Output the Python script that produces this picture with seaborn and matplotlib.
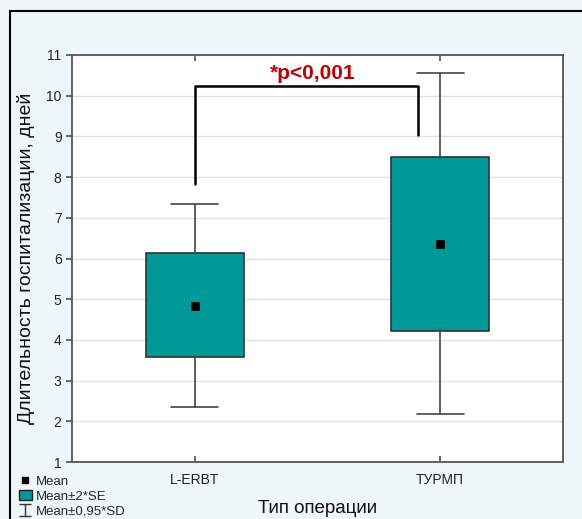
import matplotlib
matplotlib.use("Agg")
import matplotlib.pyplot as plt
import seaborn as sns
import pandas as pd
from matplotlib.lines import Line2D
from matplotlib.patches import Patch
from matplotlib.path import Path

# ---- data ----
categories = ["L-ERBT", "ТУРМП"]
means = [4.83, 6.36]
se2_low = [3.58, 4.22]
se2_high = [6.14, 8.49]
sd_low = [2.36, 2.19]
sd_high = [7.34, 10.56]
bracket_left_bottom = 7.83
bracket_top = 10.24
bracket_right_bottom = 9.03
p_text = "*p<0,001"
y_ticks = list(range(1, 12))

df = pd.DataFrame({"cat": categories, "mean": means})

sns.set_theme(style="white")
plt.rcParams["font.family"] = ["Liberation Sans", "DejaVu Sans"]

BG = "#EEF6FA"
TEAL = "#009999"
fig = plt.figure(figsize=(5.82, 5.19), dpi=100, facecolor=BG)
ax = fig.add_axes([72 / 582, 57 / 519, (563 - 72) / 582, (462 - 55) / 519])
ax.set_facecolor("white")

pos = list(range(len(categories)))
stats = []
for i, c in enumerate(categories):
    stats.append(dict(med=means[i], q1=se2_low[i], q3=se2_high[i],
                      whislo=sd_low[i], whishi=sd_high[i], fliers=[], label=c))
ax.bxp(stats, positions=pos, widths=0.40, patch_artist=True, showfliers=False,
       capwidths=0.19,
       boxprops=dict(facecolor=TEAL, edgecolor="#333333", linewidth=1.2),
       medianprops=dict(linewidth=0),
       whiskerprops=dict(color="#444444", linewidth=1.2),
       capprops=dict(color="#444444", linewidth=1.2), zorder=3)

sns.scatterplot(data=df, x=pos, y="mean", marker="s", s=40, color="black",
                edgecolor="black", ax=ax, zorder=5, legend=False)

# significance bracket
xr = 0.91
ax.plot([0, 0, xr, xr], [bracket_left_bottom, bracket_top, bracket_top, bracket_right_bottom],
        color="black", linewidth=1.8, zorder=4, clip_on=False)
ax.text(0.48, bracket_top + 0.08, p_text, color="#C00000", fontsize=15,
        fontweight="bold", ha="center", va="bottom")

ax.set_xlim(-0.5, 1.5)
ax.set_ylim(1, 11)
ax.set_yticks(y_ticks)
ax.set_xticks(pos)
ax.set_xticklabels(categories)
ax.yaxis.grid(True, color="#e2e2e2", linewidth=1.0)
ax.set_axisbelow(True)
for s in ax.spines.values():
    s.set_color("#555555")
    s.set_linewidth(1.3)
ax.tick_params(axis="y", direction="out", length=4, color="#555555", labelsize=10,
               labelcolor="#222222", left=True)
ax.tick_params(axis="x", direction="in", length=4, color="#555555", labelsize=10,
               labelcolor="#222222", bottom=True, top=True, pad=8)
ax.set_ylabel("Длительность госпитализации, дней", fontsize=14, color="#111111", labelpad=8)
ax.set_xlabel("Тип операции", fontsize=13.5, color="#111111", labelpad=9)

# legend
ipath = Path([(-1, -1), (1, -1), (0, -1), (0, 1), (-1, 1), (1, 1)],
             [Path.MOVETO, Path.LINETO, Path.MOVETO, Path.LINETO, Path.MOVETO, Path.LINETO])
handles = [
    Line2D([], [], marker="s", color="black", linestyle="none", markersize=5),
    Patch(facecolor=TEAL, edgecolor="#222222"),
    Line2D([], [], marker=ipath, color="#333333", markerfacecolor="none",
           linestyle="none", markersize=9, markeredgewidth=1.0),
]
fig.legend(handles, ["Mean", "Mean±2*SE", "Mean±0,95*SD"], loc="lower left",
           bbox_to_anchor=(10 / 582, -7 / 519), frameon=False, fontsize=9.5,
           handlelength=1.0, handletextpad=0.3, labelspacing=0.2, borderpad=0.15)

# outer frame
fig.add_artist(Line2D([10 / 582, 10 / 582], [0, 1 - 11 / 519], color="black", linewidth=1.5,
                      transform=fig.transFigure))
fig.add_artist(Line2D([10 / 582, 1], [1 - 11 / 519, 1 - 11 / 519], color="black", linewidth=1.5,
                      transform=fig.transFigure))

fig.savefig("out.png", dpi=100, facecolor=BG)
